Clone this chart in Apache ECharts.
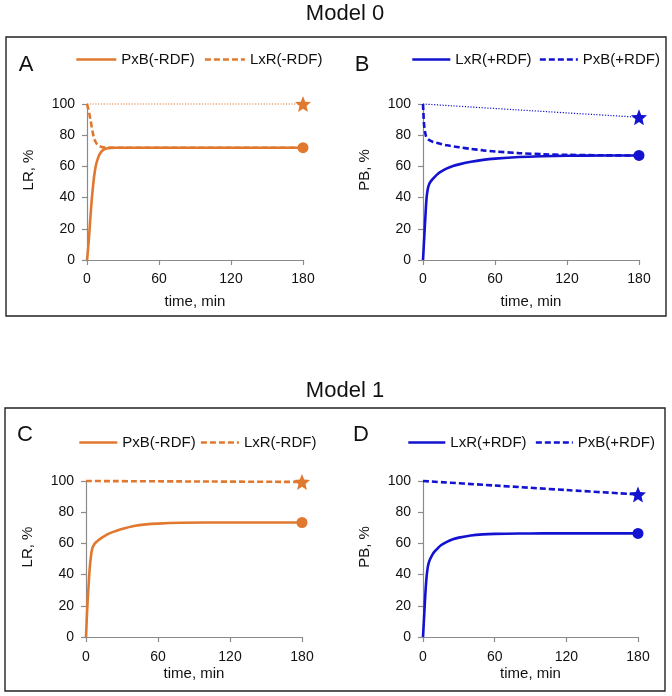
<!DOCTYPE html>
<html>
<head>
<meta charset="utf-8">
<script src="https://cdn.jsdelivr.net/npm/echarts@6/dist/echarts.min.js"></script>
<style>
  html, body { margin: 0; padding: 0; background: #fff; }
  #chart { width: 672px; height: 696px; }
</style>
</head>
<body>
<div id="chart"></div>
<script>
// ---------- tick labels ----------
const xTicks = [0, 60, 120, 180];
const yTicks = [0, 20, 40, 60, 80, 100];

// ---------- Panel A (Model 0, -RDF) ----------
const tA_pxb = [0, 1, 2, 3, 4, 5, 6, 7, 8, 10, 12, 14, 17, 20, 25, 30, 180];
const vA_pxb = [0, 8, 18, 29, 39, 47, 54, 59, 62.5, 67, 69.5, 70.8, 71.6, 71.9, 72, 72, 72];
const tA_lxr = [0, 1, 2, 3, 4, 5, 6, 8, 10, 12, 15, 20, 180];
const vA_lxr = [100, 97, 93.5, 89.5, 85, 81, 77.8, 74.6, 73.2, 72.5, 72.1, 72, 72];
const tA_dot = [0, 180];
const vA_dot = [100, 100];
const starA = [180, 100];
const circA = [180, 72];

// ---------- Panel B (Model 0, +RDF) ----------
const tB_lxr = [0, 1, 2, 3, 4, 5, 6, 8, 10, 12.5, 15, 20, 25, 30, 40, 50, 60, 80, 100, 120, 150, 180];
const vB_lxr = [0, 14, 28, 40, 45.5, 48.3, 49.8, 51.8, 53.5, 55.3, 56.6, 58.7, 60.2, 61.3, 63, 64.2, 65, 66, 66.5, 66.8, 67, 67];
const tB_pxb = [0, 0.5, 1, 2, 3, 5, 8, 12, 20, 30, 40, 50, 60, 80, 100, 120, 150, 180];
const vB_pxb = [100, 92, 86, 81, 78.5, 77, 75.8, 75, 73.5, 72.3, 71.2, 70.3, 69.6, 68.5, 67.8, 67.4, 67.1, 67];
const tB_dot = [0, 90, 180];
const vB_dot = [100, 95.7, 91.5];
const starB = [180, 91.5];
const circB = [180, 67];

// ---------- Panel C (Model 1, -RDF) ----------
const tC_pxb = [0, 1, 2, 3, 4, 5, 6, 8, 10, 13, 16, 20, 25, 30, 40, 50, 60, 80, 100, 120, 150, 180];
const vC_pxb = [0, 18, 31, 43, 51, 56, 58.2, 60.5, 61.8, 63.5, 65, 66.6, 68, 69.3, 71.2, 72.2, 72.7, 73.2, 73.4, 73.4, 73.4, 73.4];
const tC_lxr = [0, 90, 180];
const vC_lxr = [100, 99.7, 99.4];
const starC = [180, 99.4];
const circC = [180, 73.4];

// ---------- Panel D (Model 1, +RDF) ----------
const tD_lxr = [0, 1, 2, 3, 4, 5, 6, 8, 10, 12.5, 15, 20, 25, 30, 40, 50, 60, 80, 100, 120, 150, 180];
const vD_lxr = [0, 14, 28, 38.5, 44.8, 48, 50, 53, 55, 57, 58.8, 61, 62.6, 63.7, 65.1, 65.8, 66.1, 66.3, 66.4, 66.4, 66.4, 66.4];
const tD_pxb = [0, 60, 120, 180];
const vD_pxb = [100, 97.1, 94.2, 91.4];
const starD = [180, 91.4];
const circD = [180, 66.4];

// ---------- styling ----------
const ORANGE = '#E0792F';
const BLUE = '#1212D0';
const AXIS = '#8a8a8a';
const FONT = '"Liberation Sans", Arial, sans-serif';
const STAR = 'path://M12,0.5 L15.2,8.4 L23.7,9 L17.2,14.5 L19.2,22.8 L12,18.3 L4.8,22.8 L6.8,14.5 L0.3,9 L8.8,8.4 Z';

function pairs(t, v) { return t.map((x, i) => [x, v[i]]); }

const grids = [
  { left: 87, top: 104, width: 216, height: 156 },
  { left: 423, top: 104, width: 216, height: 156 },
  { left: 86, top: 481, width: 216, height: 156 },
  { left: 423, top: 481, width: 215, height: 156 }
];
const xNameGaps = [34, 34, 29, 29];
const xLabelMargins = [12, 12, 13, 13];

const xAxes = grids.map((g, i) => ({
  type: 'value', gridIndex: i, min: xTicks[0], max: xTicks[xTicks.length - 1],
  interval: xTicks[1] - xTicks[0],
  name: 'time, min', nameLocation: 'middle', nameGap: xNameGaps[i],
  nameTextStyle: { fontFamily: FONT, fontSize: 15, color: '#111' },
  axisLine: { lineStyle: { color: AXIS, width: 1.2 } },
  axisTick: { show: true, length: 5, lineStyle: { color: AXIS, width: 1.2 } },
  axisLabel: { margin: xLabelMargins[i], fontFamily: FONT, fontSize: 14, color: '#111' },
  splitLine: { show: false }
}));
const yAxes = grids.map((g, i) => ({
  type: 'value', gridIndex: i, min: yTicks[0], max: yTicks[yTicks.length - 1],
  interval: yTicks[1] - yTicks[0],
  axisLine: { show: true, lineStyle: { color: AXIS, width: 1.2 } },
  axisTick: { show: true, length: 5, lineStyle: { color: AXIS, width: 1.2 } },
  axisLabel: { margin: 12, fontFamily: FONT, fontSize: 14, color: '#111' },
  splitLine: { show: false }
}));

function line(name, gi, data, color, type, width, z) {
  return {
    name: name, type: 'line', xAxisIndex: gi, yAxisIndex: gi, data: data,
    symbol: 'none', smooth: 0.3, z: z, clip: false,
    lineStyle: { color: color, width: width, type: type },
    itemStyle: { color: color }
  };
}
function marker(name, gi, pt, color, sym, size) {
  return {
    name: name, type: 'scatter', xAxisIndex: gi, yAxisIndex: gi, data: [pt],
    symbol: sym, symbolSize: size, z: 10, clip: false,
    itemStyle: { color: color, opacity: 1 }
  };
}

const series = [
  // A
  line('dotA', 0, pairs(tA_dot, vA_dot), ORANGE, [1.2, 1.6], 1.2, 1),
  line('LxR(-RDF)', 0, pairs(tA_lxr, vA_lxr), ORANGE, [6, 3], 2.6, 2),
  line('PxB(-RDF)', 0, pairs(tA_pxb, vA_pxb), ORANGE, 'solid', 2.6, 3),
  marker('starA', 0, starA, ORANGE, STAR, 16),
  marker('circA', 0, circA, ORANGE, 'circle', 11),
  // B
  line('dotB', 1, pairs(tB_dot, vB_dot), BLUE, [1.2, 1.6], 1.2, 1),
  line('PxB(+RDF)', 1, pairs(tB_pxb, vB_pxb), BLUE, [6, 3], 2.6, 2),
  line('LxR(+RDF)', 1, pairs(tB_lxr, vB_lxr), BLUE, 'solid', 2.6, 3),
  marker('starB', 1, starB, BLUE, STAR, 16),
  marker('circB', 1, circB, BLUE, 'circle', 11),
  // C
  line('LxR(-RDF)', 2, pairs(tC_lxr, vC_lxr), ORANGE, [6, 3], 2.6, 2),
  line('PxB(-RDF)', 2, pairs(tC_pxb, vC_pxb), ORANGE, 'solid', 2.6, 3),
  marker('starC', 2, starC, ORANGE, STAR, 16),
  marker('circC', 2, circC, ORANGE, 'circle', 11),
  // D
  line('PxB(+RDF)', 3, pairs(tD_pxb, vD_pxb), BLUE, [6, 3], 2.6, 2),
  line('LxR(+RDF)', 3, pairs(tD_lxr, vD_lxr), BLUE, 'solid', 2.6, 3),
  marker('starD', 3, starD, BLUE, STAR, 16),
  marker('circD', 3, circD, BLUE, 'circle', 11)
];

function legend(names, left, top, w, gap) {
  return {
    data: names, left: left, top: top, orient: 'horizontal', padding: 0,
    itemWidth: w, itemHeight: 14, itemGap: gap, selectedMode: false,
    itemStyle: { opacity: 0 },
    lineStyle: { width: 2.6 },
    textStyle: { fontFamily: FONT, fontSize: 15, color: '#111' }
  };
}
const legends = [
  legend(['PxB(-RDF)', 'LxR(-RDF)'], 75, 52, 40, 9),
  legend(['LxR(+RDF)', 'PxB(+RDF)'], 411, 52, 38, 7),
  legend(['PxB(-RDF)', 'LxR(-RDF)'], 78, 435, 38, 4),
  legend(['LxR(+RDF)', 'PxB(+RDF)'], 407, 435, 37, 8)
];

function txt(x, y, s, size, rot) {
  return {
    type: 'text', x: x, y: y, rotation: rot || 0, silent: true,
    style: { text: s, fontFamily: FONT, fontSize: size, fill: '#111', align: 'center', verticalAlign: 'middle' }
  };
}
const graphic = [
  { type: 'rect', shape: { x: 6, y: 37, width: 660, height: 279 }, style: { fill: 'none', stroke: '#222', lineWidth: 1.4 } },
  { type: 'rect', shape: { x: 5, y: 408, width: 660, height: 283 }, style: { fill: 'none', stroke: '#222', lineWidth: 1.4 } },
  txt(345, 14, 'Model 0', 22),
  txt(345, 391, 'Model 1', 22),
  txt(26, 65, 'A', 22),
  txt(362, 65, 'B', 22),
  txt(25, 435, 'C', 22),
  txt(361, 435, 'D', 22),
  txt(29, 170, 'LR, %', 15, Math.PI / 2),
  txt(365, 170, 'PB, %', 15, Math.PI / 2),
  txt(28, 547, 'LR, %', 15, Math.PI / 2),
  txt(365, 547, 'PB, %', 15, Math.PI / 2)
];

const chart = echarts.init(document.getElementById('chart'), null, { renderer: 'canvas' });
chart.setOption({
  animation: false,
  backgroundColor: '#fff',
  grid: grids,
  xAxis: xAxes,
  yAxis: yAxes,
  legend: legends,
  series: series,
  graphic: graphic
});
</script>
</body>
</html>
